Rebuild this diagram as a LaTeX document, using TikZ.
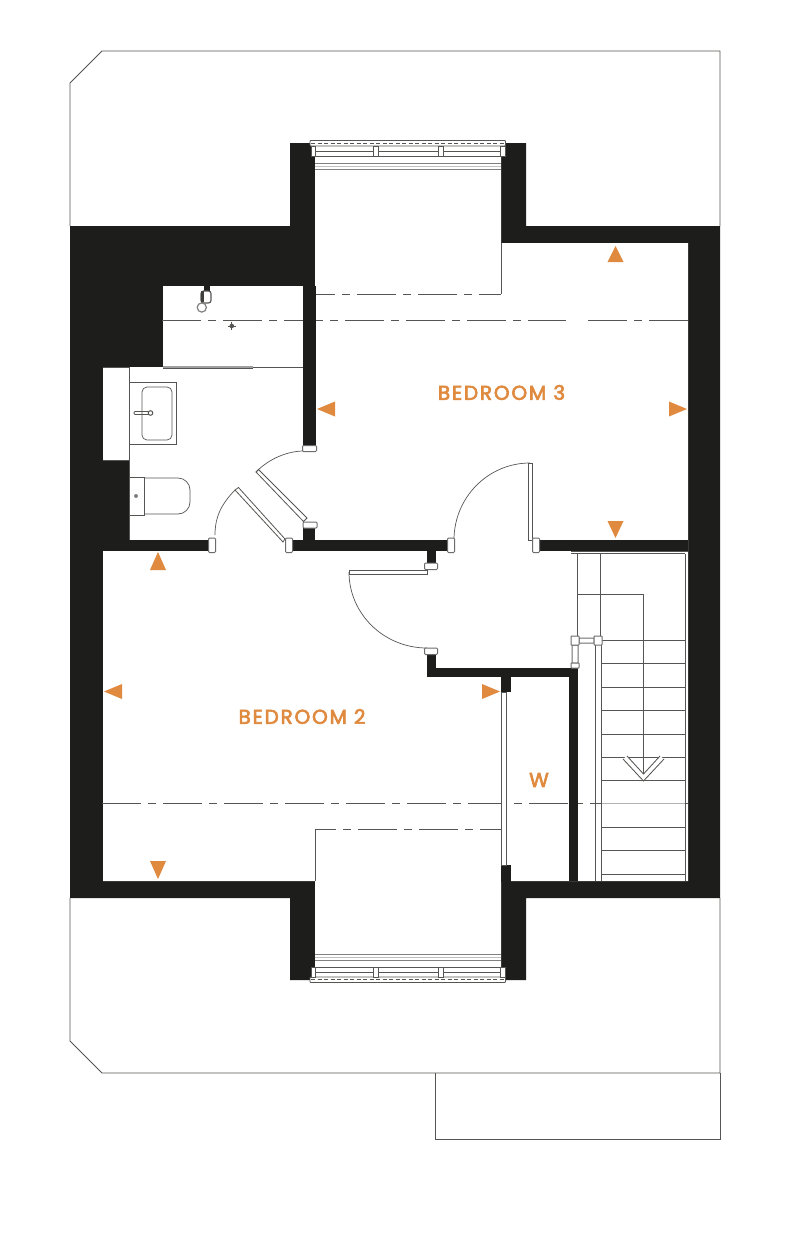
\documentclass[tikz,border=0pt]{standalone}
\usepackage{fontspec}
\newfontfamily\lblfont[LetterSpace=9,FakeBold=3.2]{Poppins}
\definecolor{wallc}{HTML}{1D1D1B}
\definecolor{linec}{HTML}{555553}
\definecolor{orng}{HTML}{DF8A3E}
\tikzset{
  wallb/.style={fill=wallc,draw=none},
  thinl/.style={draw=linec,line width=0.85pt},
  finel/.style={draw=linec,line width=0.7pt},
  roofl/.style={draw=linec,line width=0.9pt},
  ceil/.style={draw=linec,line width=0.9pt,dash pattern=on 39pt off 7pt on 8pt off 7pt},
  jamb/.style={fill=white,draw=gray!85!black,line width=1pt,rounded corners=1pt},
  leaf/.style={fill=white,draw=linec,line width=0.8pt},
  tri/.style={fill=orng,draw=none},
  roomlbl/.style={text=orng,font=\lblfont\fontsize{20}{24}\selectfont,inner sep=0pt,anchor=center}
}
\newcommand{\windowparts}{%
  \fill[white] (315,140) rectangle (501,172);
  \draw[thinl,fill=white,rounded corners=0.8pt] (310,140.5) rectangle (505.5,146);
  \draw[draw=linec,line width=0.7pt,dash pattern=on 4pt off 2.5pt] (311,143.2) -- (505,143.2);
  \draw[thinl,fill=white] (311,146) rectangle (315.5,156);
  \draw[thinl,fill=white] (500.5,146) rectangle (505,156);
  \draw[thinl] (315.5,151) -- (500.5,151) (315.5,156) -- (500.5,156);
  \draw[thinl,fill=white] (373,146) rectangle (378,156);
  \draw[thinl,fill=white] (438,146) rectangle (443,156);
  \draw[draw=gray,line width=1pt] (315,163) -- (501,163);
  \draw[draw=gray!50,line width=0.8pt] (315,166) -- (501,166);
  \draw[draw=gray,line width=1pt] (315,169) -- (501,169);
}
\begin{document}
\begin{tikzpicture}[x=1pt,y=-1pt]
\useasboundingbox (0,0) rectangle (800,1242);
\fill[white] (0,0) rectangle (800,1242);
% roof outline
\draw[roofl] (70,226) -- (70,83) -- (102,51) -- (720,51) -- (720,226);
\draw[roofl] (70,898) -- (70,1041) -- (102,1073) -- (720,1073) -- (720,898);
\draw[roofl] (435,1073) -- (435,1139) -- (720,1139) -- (720,1073);
% wall mass
\fill[wallb] (70,226) -- (290,226) -- (290,143) -- (526,143) -- (526,226) -- (720,226)
  -- (720,898) -- (526,898) -- (526,980) -- (290,980) -- (290,898) -- (70,898) -- cycle;
% interior
\fill[white] (315,143) -- (501,143) -- (501,243) -- (688,243) -- (688,881) -- (501,881)
  -- (501,980) -- (315,980) -- (315,881) -- (103,881) -- (103,367) -- (163,367) -- (163,286)
  -- (315,286) -- cycle;
% ceiling lines
\draw[ceil] (162,320) -- (566,320);
\draw[ceil] (588,320) -- (688,320);
\draw[ceil,dash phase=19pt] (315,294) -- (501,294);
\draw[thinl] (501,243) -- (501,294);
\draw[ceil] (102,803) -- (688,803);
\draw[draw=gray!60,line width=0.8pt] (601,803) -- (685,803);
\draw[ceil,dash phase=18pt] (315,829) -- (501,829);
\draw[thinl] (315,829) -- (315,881);
% walls
\fill[wallb] (303,286) rectangle (315.5,446);
\fill[wallb] (103,460) rectangle (129,551);
\fill[wallb] (103,540) rectangle (212,551);
\fill[wallb] (285,540) rectangle (451,551);
\fill[wallb] (303,527) rectangle (315,541);
\fill[wallb] (427,550) rectangle (436,564);
\fill[wallb] (427,654) rectangle (436,677);
\fill[wallb] (427,668) rectangle (578,677);
\fill[wallb] (569,668) rectangle (578,881);
\fill[wallb] (501,676) rectangle (511,692);
\fill[wallb] (501,865) rectangle (511,882);
\fill[wallb] (535,540) rectangle (688,551);
% windows
\windowparts
\begin{scope}[shift={(0,1123)},yscale=-1]
\windowparts
\end{scope}
% bathroom
\draw[thinl] (103,367) -- (129,367) -- (129,460) -- (103,460);
\draw[thinl] (129,460) -- (129,540);
\draw[thinl] (253,367) -- (303,367);
\fill[gray!75] (163,365.6) rectangle (253,368.4);
\draw[thinl] (163,368.4) -- (253,368.4);
\draw[finel] (129,382) rectangle (176,444);
\draw[finel,rounded corners=5pt] (142,387) rectangle (172,440);
\draw[thinl,rounded corners=1pt] (134,411.5) rectangle (149,414.5);
\draw[thinl,fill=white,line width=1pt] (150.5,413) circle (2.3pt);
\draw[finel] (129,477) rectangle (144,515);
\draw[finel,rounded corners=12pt] (144,478) -- (190,478) -- (190,514) -- (144,514);
\fill[gray] (136,496) circle (2pt);
% shower
\fill[wallc] (204,285) rectangle (210,291);
\draw[thinl,line width=1.1pt,fill=white,rounded corners=2.5pt] (201,291) rectangle (211,303);
\fill[wallc!85!white] (200.5,291) rectangle (203.5,302);
\draw[draw=gray,line width=1.2pt,fill=white] (201.8,307.5) circle (4.6pt);
\fill[linec] (231.8,326) circle (2.3pt);
\draw[thinl] (227.5,326) -- (236,326) (231.8,321.8) -- (231.8,330.2);
% doors
\draw[leaf] (235,490) -- (238.5,487.5) -- (285,539) -- (283,542) -- cycle;
\draw[finel] (215,535) .. controls (215,516) and (222,503.5) .. (235,490);
\draw[leaf] (256,472) -- (258.5,469.5) -- (307,518) -- (303.5,521.5) -- cycle;
\draw[finel] (256,472) .. controls (269,458.7) and (287.4,451) .. (304,451);
\draw[leaf] (528,463) rectangle (532,540);
\draw[finel] (530,463) .. controls (488,463) and (454,497.5) .. (454,540);
\draw[leaf] (349,570) rectangle (427,574);
\draw[finel] (349,572) .. controls (349,614) and (384,648) .. (427,648);
% jambs
\draw[jamb] (302.5,445.5) rectangle (316.5,451.5);
\draw[jamb] (303,522) rectangle (317,528);
\draw[jamb] (208.5,538) rectangle (215.5,552.5);
\draw[jamb] (285.5,538) rectangle (292.5,552.5);
\draw[jamb] (447.5,538) rectangle (454.5,552.5);
\draw[jamb] (532.5,538) rectangle (539.5,552.5);
\draw[jamb] (424.5,563) rectangle (437.5,569.5);
\draw[jamb] (424.5,648) rectangle (437.5,654.5);
% wardrobe slider
\draw[leaf] (501.5,692) rectangle (506,865);
% stairs
\draw[thinl] (571,551.5) -- (688,551.5) (571,553.5) -- (685,553.5);
\draw[thinl] (577,553.5) -- (577,637);
\draw[thinl] (600,553.5) -- (600,637);
\draw[thinl] (685,553.5) -- (685,881);
\draw[thinl] (577,594) -- (643.5,594) -- (643.5,780);
\foreach \ty in {640,663.5,687,710.5,734,757,780.5,827,850.5,874}{
  \draw[thinl] (601,\ty) -- (685,\ty);
}
\draw[thinl] (595,645) -- (595,881) (601,645) -- (601,881);
\draw[jamb,rounded corners=0.5pt] (572,645) rectangle (578,663);
\draw[jamb,rounded corners=0.5pt] (571,663) rectangle (579,668);
\draw[jamb,rounded corners=0.5pt] (579,638) rectangle (594,643);
\draw[jamb,rounded corners=0.5pt] (571,636) rectangle (579,645);
\draw[jamb,rounded corners=0.5pt] (594,636) rectangle (602,645);
% stair arrow
\fill[white] (623,759) -- (627,756) -- (643.5,774) -- (660,756) -- (664,759) -- (643.5,781) -- cycle;
\draw[thinl] (623,759) -- (643.5,781) -- (664,759);
\draw[thinl] (627,756) -- (643.5,774) -- (660,756);
% orange markers
\fill[tri] (615.5,246) -- (623.5,262) -- (607.5,262) -- cycle;
\fill[tri] (317,409) -- (335,401.5) -- (335,416.5) -- cycle;
\fill[tri] (687,409) -- (669,401.5) -- (669,416.5) -- cycle;
\fill[tri] (615.5,538) -- (607.5,521) -- (623.5,521) -- cycle;
\fill[tri] (158,552) -- (166,570) -- (150,570) -- cycle;
\fill[tri] (104,691.5) -- (122,684) -- (122,699) -- cycle;
\fill[tri] (500,691.5) -- (482,684) -- (482,699) -- cycle;
\fill[tri] (158,879) -- (150,861) -- (166,861) -- cycle;
% labels
\node[roomlbl] (bedthree) at (501.5,392.5) {BEDROOM 3};
\node[roomlbl] (bedtwo) at (302,716.5) {BEDROOM 2};
\node[roomlbl] (wlabel) at (539,780) {W};
\end{tikzpicture}
\end{document}
